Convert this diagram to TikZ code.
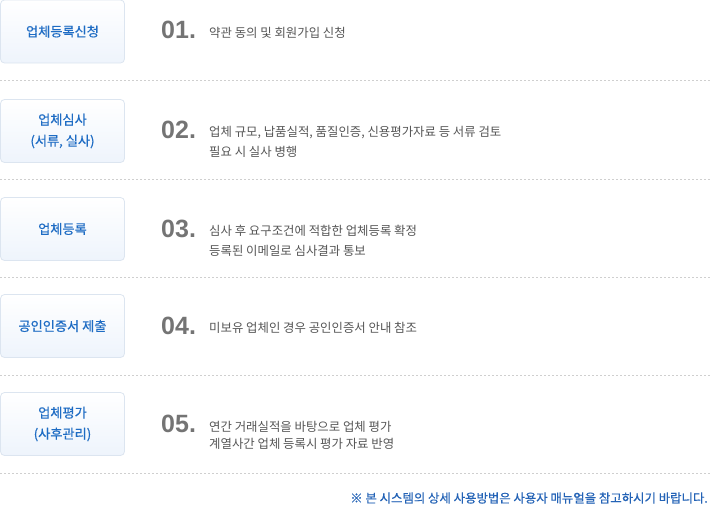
\documentclass[tikz,border=0pt]{standalone}
\usepackage{fontspec}
\newfontfamily\kr{Noto Sans CJK KR}
\newfontfamily\krb[FakeBold=0.6]{Noto Sans CJK KR}
\newfontfamily\digits{Liberation Sans}
\definecolor{stepblue}{HTML}{1E6CC4}
\definecolor{noteblue}{HTML}{2463B6}
\definecolor{boxline}{HTML}{DCE5F0}
\definecolor{boxbot}{HTML}{EEF4FC}
\definecolor{txtgray}{HTML}{555555}
\definecolor{numgray}{HTML}{747474}
\definecolor{dashgray}{HTML}{CFCFCF}
\begin{document}
\begin{tikzpicture}[x=1pt,y=-1pt, line join=round,
	stepbox/.style={draw=boxline, line width=0.8pt, rounded corners=4pt, top color=white, bottom color=boxbot,
		minimum width=124pt, minimum height=63pt, inner sep=0pt, align=center,
		text=stepblue, font=\krb\fontsize{13.2}{21}\selectfont},
	stepnum/.style={anchor=west, inner sep=0pt, text=numgray, font=\digits\bfseries\fontsize{25}{25}\selectfont},
	steptxt/.style={anchor=west, inner sep=0pt, align=left, text=txtgray, font=\kr\fontsize{12.4}{20}\selectfont},
	sep/.style={draw=dashgray, line width=0.8pt, dash pattern=on 2pt off 2pt}]
	\useasboundingbox (0,0) rectangle (710,506);
	\def\xb{62.5} \def\xn{161} \def\xt{209} % Cot
	% 01
	\node[stepbox] (b1) at (\xb,31.5) {업체등록신청};
	\node[stepnum] (n1) at (\xn,30) {01.};
	\node[steptxt] (t1) at (\xt,33) {약관 동의 및 회원가입 신청};
	\draw[sep] (0,80)--(710,80);
	% 02
	\node[stepbox] (b2) at (\xb,131) {업체심사\\(서류, 실사)};
	\node[stepnum] (n2) at (\xn,130) {02.};
	\node[steptxt] (t2) at (\xt,142) {업체 규모, 납품실적, 품질인증, 신용평가자료 등 서류 검토\\필요 시 실사 병행};
	\draw[sep] (0,179)--(710,179);
	% 03
	\node[stepbox] (b3) at (\xb,229) {업체등록};
	\node[stepnum] (n3) at (\xn,229) {03.};
	\node[steptxt] (t3) at (\xt,241) {심사 후 요구조건에 적합한 업체등록 확정\\등록된 이메일로 심사결과 통보};
	\draw[sep] (0,277)--(710,277);
	% 04
	\node[stepbox] (b4) at (\xb,326) {공인인증서 제출};
	\node[stepnum] (n4) at (\xn,326) {04.};
	\node[steptxt] (t4) at (\xt,328) {미보유 업체인 경우 공인인증서 안내 참조};
	\draw[sep] (0,375)--(710,375);
	% 05
	\node[stepbox] (b5) at (\xb,424) {업체평가\\(사후관리)};
	\node[stepnum] (n5) at (\xn,424) {05.};
	\node[steptxt, font=\kr\fontsize{12.4}{17}\selectfont] (t5) at (\xt,435) {연간 거래실적을 바탕으로 업체 평가\\계열사간 업체 등록시 평가 자료 반영};
	\draw[sep] (0,473)--(710,473);
	% ghi chu
	\node[anchor=east, inner sep=0pt, text=noteblue, font=\krb\fontsize{12.4}{14}\selectfont] (note) at (708,498) {※ 본 시스템의 상세 사용방법은 사용자 매뉴얼을 참고하시기 바랍니다.};
\end{tikzpicture}
\end{document}
